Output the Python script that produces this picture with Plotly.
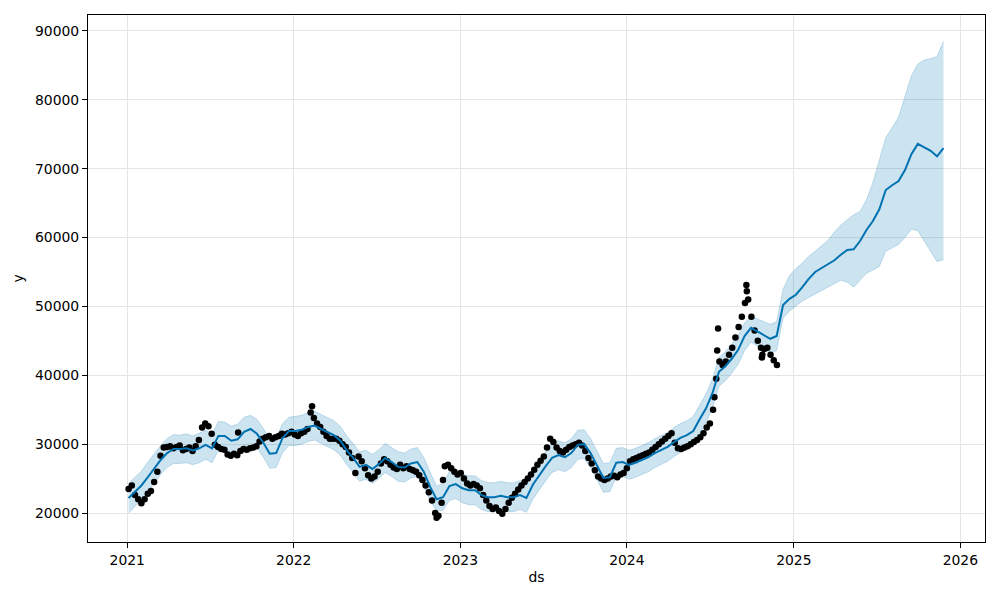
import pandas as pd
import plotly.graph_objects as go

# ---- observed weekly values (Mondays from 2021-01-04) ----
y2021 = [23500, 24000, 22600, 22000,
         21400, 22000, 22800, 23200,
         24500, 26000, 28300, 29500, 29600,
         29700, 29400, 29600, 29800,
         29100, 29300, 29500, 29000, 29700,
         30600, 32400, 33000, 32600,
         31500, 29900, 29600, 29300,
         29200, 28500, 28300, 28600, 28400,
         29000, 29300, 29200, 29400,
         29500, 29700, 30400, 30800,
         31000, 31200, 30800, 31000, 31200,
         31500, 31400, 31600, 31800]
y2022 = [31400, 31200, 31600, 31800, 32200,
         34600, 33800, 33000, 32500,
         31800, 31200, 30800, 30800,
         30800, 30500, 30000, 29600,
         28800, 28000, 25800, 28200, 27500,
         26500, 25500, 25000, 25300,
         26000, 27200, 27800, 27500,
         27000, 26600, 26400, 27000, 26500,
         26800, 26400, 26200, 26000,
         25500, 24800, 24000, 23000, 21800,
         20000, 19600, 21500, 26800,
         27000, 26500, 26000, 25600]
y2023 = [25800, 25000, 24300, 24000, 24200,
         24000, 23600, 22600, 21800,
         21000, 20600, 20800, 20300,
         19900, 20600, 21500, 22200,
         22800, 23400, 24000, 24500, 25000,
         25600, 26300, 27000, 27600,
         28200, 29500, 30800, 30300, 29500,
         29000, 28800, 29200, 29600,
         29800, 30000, 30200, 29800,
         29000, 28000, 27200, 26200, 25300,
         25000, 24800, 25000, 25300,
         25400, 25200, 25600, 25800]
y2024 = [26500, 27500, 27800, 28000, 28200,
         28400, 28600, 28800, 29200,
         29600, 30000, 30400, 30800,
         31200, 31600, 30200, 29400, 29300,
         29500, 29700, 30000, 30300,
         30600, 31000, 31600, 32400,
         33000, 35000, 39500, 42000, 41500,
         42000, 43000, 44000, 45500,
         47000, 48500, 50500, 51000, 48500,
         46500, 45000, 44000, 43800,
         44000, 43000, 42200, 41500]

# single-day observations that stand out from the weekly path
extra_dates = ['2021-09-01', '2022-02-10', '2022-11-10', '2022-11-24', '2024-07-11',
               '2024-07-17', '2024-07-19', '2024-09-19', '2024-09-20', '2024-10-23',
               '2024-10-24']
extra_vals = [31700, 35500, 19300, 24800, 36800,
              43600, 46800, 53100, 52200, 42600,
              43000]

# ---- forecast (128 evenly spaced dates 2021-01-04 .. 2025-11-25) ----
yhat = [22180, 23050, 24000, 25200, 26500, 27700, 28700, 29300, 29300, 29400,
        29100, 29400, 29900, 29400, 31200, 31200, 30500, 30700, 31800, 32200,
        31500, 30200, 28600, 28700, 30900, 31900, 31900, 32100, 32500, 32700,
        32200, 31800, 31300, 30500, 29100, 28000, 26700, 27000, 26400, 27100,
        28000, 27400, 26700, 26600, 27200, 27400, 26000, 23800, 22000, 22300,
        23900, 24200, 23600, 23300, 23300, 22600, 22300, 22300, 22500, 22300,
        22300, 22600, 22200, 24100, 25500, 26800, 28000, 28400, 28100, 28700,
        29900, 30000, 28700, 26800, 25100, 25200, 27300, 27400, 27000, 27300,
        27700, 28100, 28700, 29100, 29600, 30300, 30900, 31300, 31900, 33600,
        35200, 37400, 40500, 41300, 42400, 43700, 45700, 46900, 46400, 45800,
        45300, 45700, 50200, 51100, 51700, 52800, 54000, 55000, 55600, 56200,
        56700, 57500, 58200, 58300, 59500, 61100, 62400, 64100, 66900, 67600,
        68200, 69800, 72100, 73600, 73100, 72600, 71800, 73000]
yhat_upper = [24300, 25200, 26100, 27400, 28600, 29800, 30800, 31400, 31300, 31500,
              31200, 31600, 32000, 31500, 33300, 33200, 32600, 32900, 33900, 34200,
              33600, 32300, 30700, 30900, 33000, 33900, 34000, 34200, 34600, 34800,
              34300, 33900, 33400, 32600, 31200, 30100, 28900, 29100, 28500, 29200,
              30100, 29500, 28900, 28700, 29300, 29500, 28100, 25900, 23900, 24300,
              26000, 26300, 25700, 25400, 25400, 24700, 24400, 24400, 24600, 24400,
              24400, 24700, 24300, 26200, 27600, 28900, 30100, 30500, 30200, 30800,
              32000, 32100, 30800, 28900, 27200, 27300, 29400, 29500, 29100, 29400,
              29800, 30200, 30800, 31200, 31700, 32400, 33000, 33400, 34000, 35700,
              37300, 39500, 42600, 43400, 44500, 45800, 47600, 48600, 48200, 47800,
              47400, 47800, 52500, 54500, 55500, 56300, 57300, 58000, 58800, 59600,
              60800, 61800, 62600, 63300, 63800, 65500, 68000, 71300, 74500, 76000,
              77500, 80500, 83500, 85200, 85800, 86000, 86300, 88500]
yhat_lower = [20000, 20900, 21900, 23100, 24400, 25600, 26600, 27200, 27200, 27300,
              27000, 27300, 27800, 27300, 29100, 29100, 28400, 28600, 29700, 30100,
              29400, 28100, 26500, 26600, 28800, 29800, 29800, 30000, 30400, 30600,
              30100, 29700, 29200, 28400, 27000, 25900, 24600, 24900, 24300, 25000,
              25900, 25300, 24600, 24500, 25100, 25300, 23900, 21700, 20300, 20400,
              21800, 22100, 21500, 21200, 21200, 20500, 20200, 20200, 20400, 20200,
              20200, 20500, 20100, 22000, 23400, 24700, 25900, 26300, 26000, 26600,
              27800, 27900, 26600, 24700, 23000, 23100, 25200, 25300, 24900, 25200,
              25600, 26000, 26600, 27000, 27500, 28200, 28800, 29200, 29800, 31500,
              33100, 35300, 38400, 39200, 40300, 41600, 43600, 44800, 44300, 43700,
              43200, 43600, 48300, 49300, 50000, 50800, 51300, 51800, 52300, 52800,
              53300, 53800, 53500, 52800, 53800, 54800, 55300, 55800, 58000, 58500,
              59000, 60000, 61200, 61000, 59500, 58200, 56500, 56800]

y_ticks = [20000, 30000, 40000, 50000, 60000, 70000, 80000, 90000]
x_tick_labels = ['2021', '2022', '2023', '2024', '2025', '2026']

obs_y = y2021 + y2022 + y2023 + y2024
obs_ds = pd.date_range('2021-01-04', periods=len(obs_y), freq='7D')
fc_ds = pd.date_range('2021-01-04', '2025-11-25', periods=len(yhat))

BLUE = '#0072B2'
BAND = 'rgba(0,114,178,0.2)'
FONT = 'DejaVu Sans'

fig = go.Figure()
fig.add_trace(go.Scatter(x=fc_ds, y=yhat_upper, mode='lines',
                         line=dict(color=BAND, width=1), hoverinfo='skip'))
fig.add_trace(go.Scatter(x=fc_ds, y=yhat_lower, mode='lines', fill='tonexty',
                         fillcolor=BAND, line=dict(color=BAND, width=1), hoverinfo='skip'))
fig.add_trace(go.Scatter(x=obs_ds, y=obs_y, mode='markers',
                         marker=dict(color='black', size=6.5)))
fig.add_trace(go.Scatter(x=pd.to_datetime(extra_dates), y=extra_vals, mode='markers',
                         marker=dict(color='black', size=6.5)))
fig.add_trace(go.Scatter(x=fc_ds, y=yhat, mode='lines',
                         line=dict(color=BLUE, width=2)))

axis_common = dict(showline=True, linecolor='black', linewidth=1, mirror=True,
                   ticks='outside', ticklen=5, tickwidth=1, tickcolor='black',
                   showgrid=True, gridcolor='#e5e5e5', gridwidth=1, zeroline=False,
                   tickfont=dict(family=FONT, size=13.9, color='black'))

fig.update_layout(
    width=1000, height=600,
    margin=dict(l=88, r=15, t=15, b=58),
    paper_bgcolor='white', plot_bgcolor='white',
    showlegend=False,
    font=dict(family=FONT, size=13.9, color='black'),
    xaxis=dict(range=['2020-10-07', '2026-02-24'],
               tickvals=pd.to_datetime([f'{t}-01-01' for t in x_tick_labels]),
               ticktext=x_tick_labels,
               title=dict(text='ds', font=dict(family=FONT, size=13.9), standoff=5),
               **axis_common),
    yaxis=dict(range=[15790, 92320],
               tickvals=y_ticks, ticktext=[str(v) for v in y_ticks],
               title=dict(text='y', font=dict(family=FONT, size=13.9), standoff=8),
               **axis_common),
)

fig.write_html('out.html')
